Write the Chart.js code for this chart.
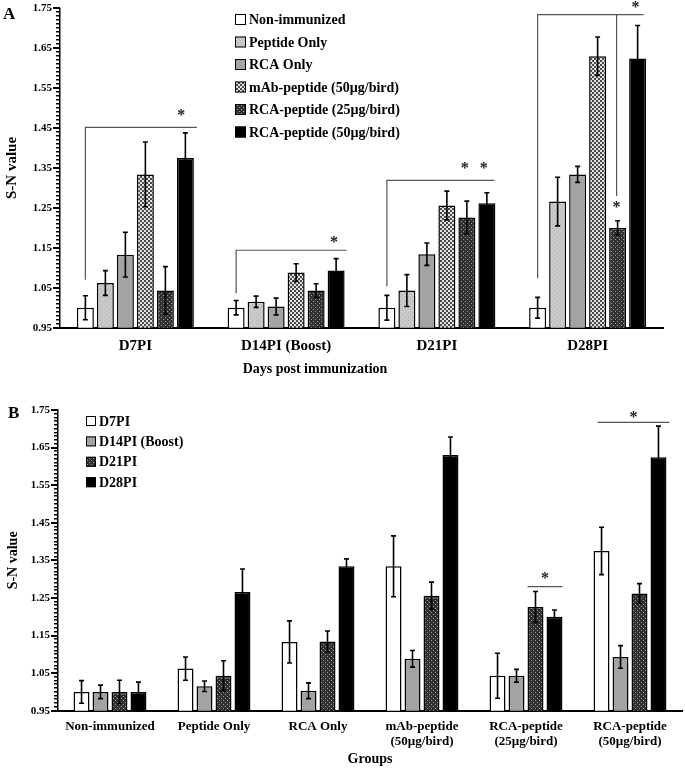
<!DOCTYPE html>
<html>
<head>
<meta charset="utf-8">
<script src="https://cdn.jsdelivr.net/npm/chart.js@4.4.1/dist/chart.umd.min.js"></script>
<style>
  html, body { margin: 0; padding: 0; background: #fff; }
  #wrapA { position: absolute; left: 0; top: 0; width: 685px; height: 380px; }
  #wrapB { position: absolute; left: 0; top: 385px; width: 685px; height: 383px; }
</style>
</head>
<body>
<div id="wrapA"><canvas id="chartA"></canvas></div>
<div id="wrapB"><canvas id="chartB"></canvas></div>
<script>
// ---- data ----
var timepoints = ['D7PI', 'D14PI (Boost)', 'D21PI', 'D28PI'];
var groups = ['Non-immunized', 'Peptide Only', 'RCA Only',
  'mAb-peptide (50µg/bird)', 'RCA-peptide (25µg/bird)', 'RCA-peptide (50µg/bird)'];
var groupTicks = ['Non-immunized', 'Peptide Only', 'RCA Only',
  ['mAb-peptide', '(50µg/bird)'], ['RCA-peptide', '(25µg/bird)'], ['RCA-peptide', '(50µg/bird)']];

// S-N values per group, in timepoint order
var nonImmunized   = [1.000, 1.000, 1.000, 1.000];
var peptideOnly    = [1.062, 1.015, 1.043, 1.266];
var rcaOnly        = [1.133, 1.003, 1.134, 1.334];
var mAbPeptide50   = [1.334, 1.088, 1.256, 1.630];
var rcaPeptide25   = [1.043, 1.043, 1.226, 1.200];
var rcaPeptide50   = [1.375, 1.093, 1.262, 1.624];

// error bar half-lengths
var nonImmunizedErr = [0.030, 0.018, 0.031, 0.026];
var peptideOnlyErr  = [0.031, 0.014, 0.040, 0.061];
var rcaOnlyErr      = [0.056, 0.021, 0.028, 0.020];
var mAbPeptide50Err = [0.081, 0.022, 0.036, 0.048];
var rcaPeptide25Err = [0.060, 0.017, 0.041, 0.018];
var rcaPeptide50Err = [0.063, 0.030, 0.026, 0.083];

var groupValues = [nonImmunized, peptideOnly, rcaOnly, mAbPeptide50, rcaPeptide25, rcaPeptide50];
var groupErrors = [nonImmunizedErr, peptideOnlyErr, rcaOnlyErr, mAbPeptide50Err, rcaPeptide25Err, rcaPeptide50Err];

// y axis: labels every 0.10 starting at 0.95, minor marks every 0.01
var yMin = 0.95, yMax = 1.75;
var yTickValues = [];
for (var k = 95; k <= 175; k++) yTickValues.push(k / 100);

// ---- fill patterns ----
function pattern(size, bg, fg, cells) {
  var cv = document.createElement('canvas');
  cv.width = size; cv.height = size;
  var g = cv.getContext('2d');
  g.fillStyle = bg; g.fillRect(0, 0, size, size);
  g.fillStyle = fg;
  cells.forEach(function (p) { g.fillRect(p[0], p[1], p[2], p[3]); });
  return g.createPattern(cv, 'repeat');
}
var FILL_WHITE = '#ffffff';
var FILL_LIGHT = pattern(4, '#cacaca', '#aeaeae', [[0, 0, 1, 1], [2, 2, 1, 1]]);
var FILL_GRAY = '#a3a3a3';
var FILL_WEAVE = pattern(4, '#e2e2e2', '#4a4a4a', [[0, 0, 2, 2], [2, 2, 2, 2]]);
var FILL_DARK = pattern(4, '#303030', '#9c9c9c', [[1, 1, 1, 1], [3, 3, 1, 1]]);
var FILL_BLACK = '#000000';

var groupFills = [FILL_WHITE, FILL_LIGHT, FILL_GRAY, FILL_WEAVE, FILL_DARK, FILL_BLACK];
var timeFills = [FILL_WHITE, FILL_GRAY, FILL_DARK, FILL_BLACK];

Chart.defaults.font.family = '"Liberation Serif", "Times New Roman", serif';
Chart.defaults.font.weight = 'bold';
Chart.defaults.color = '#000';

function isMajor(v) { return Math.round(v * 100) % 10 === 5; }

// ---- extras: axis marks, error bars, significance brackets, legend, labels ----
function barX(chart, ds, cat, at, dx) {
  var bar = chart.getDatasetMeta(ds).data[cat];
  var x = bar.x;
  if (at === 'l') x -= bar.width / 2;
  if (at === 'r') x += bar.width / 2;
  return x + (dx || 0);
}

var extras = {
  id: 'extras',
  afterDraw: function (chart, args, opts) {
    var c = chart.ctx, ys = chart.scales.y;
    c.save();

    // y tick marks (minor every 0.01, major at labels)
    var ax = Math.round(chart.chartArea.left);
    c.fillStyle = '#000';
    yTickValues.forEach(function (v) {
      var y = Math.round(ys.getPixelForValue(v));
      if (isMajor(v)) c.fillRect(ax - 7, y - 1, 7, 2);
      else c.fillRect(ax - 4, y - 1, 4, 1.5);
    });

    // error bars
    c.strokeStyle = '#000'; c.lineWidth = 1.6;
    chart.data.datasets.forEach(function (ds, i) {
      chart.getDatasetMeta(i).data.forEach(function (bar, j) {
        var v = ds.data[j], e = ds.err[j];
        var t = ys.getPixelForValue(v + e), b = ys.getPixelForValue(v - e);
        c.beginPath();
        c.moveTo(bar.x, t); c.lineTo(bar.x, b);
        c.moveTo(bar.x - 2.5, t); c.lineTo(bar.x + 2.5, t);
        c.moveTo(bar.x - 2.5, b); c.lineTo(bar.x + 2.5, b);
        c.stroke();
      });
    });

    // significance brackets
    c.strokeStyle = '#555'; c.lineWidth = 1.2;
    (opts.brackets || []).forEach(function (line) {
      c.beginPath();
      line.forEach(function (p, n) {
        var x = barX(chart, p[0], p[1], p[2], p[3]), y = ys.getPixelForValue(p[4]);
        if (n === 0) c.moveTo(x, y); else c.lineTo(x, y);
      });
      c.stroke();
    });
    c.fillStyle = '#222';
    c.font = 'bold 16px "Liberation Serif", serif';
    c.textAlign = 'center'; c.textBaseline = 'middle';
    (opts.stars || []).forEach(function (s) {
      var x;
      if (s.mid) x = (barX(chart, s.mid[0][0], s.mid[0][1], s.mid[0][2], s.mid[0][3]) +
                      barX(chart, s.mid[1][0], s.mid[1][1], s.mid[1][2], s.mid[1][3])) / 2;
      else x = barX(chart, s.at[0], s.at[1], 'c', s.at[2]);
      c.fillText('*', x, ys.getPixelForValue(s.y) + 3);
    });

    // legend
    var L = opts.legend;
    c.font = 'bold ' + L.size + 'px "Liberation Serif", serif';
    c.textAlign = 'left'; c.textBaseline = 'middle';
    chart.data.datasets.forEach(function (ds, i) {
      var y = L.y + i * L.dy;
      c.fillStyle = ds.backgroundColor;
      c.fillRect(L.x, y - L.box / 2, L.box, L.box);
      c.strokeStyle = '#000'; c.lineWidth = 1;
      c.strokeRect(L.x + 0.5, y - L.box / 2 + 0.5, L.box - 1, L.box - 1);
      c.fillStyle = '#000';
      c.fillText(ds.label, L.x + L.box + 3, y + 1);
    });

    // panel letter
    c.font = 'bold 17px "Liberation Serif", serif';
    c.fillText(opts.letter.text, opts.letter.x, opts.letter.y);

    // free-placed axis title
    if (opts.xTitle) {
      c.font = 'bold 14px "Liberation Serif", serif';
      c.textAlign = 'center';
      c.fillText(opts.xTitle.text, opts.xTitle.x, opts.xTitle.y);
    }
    c.restore();
  }
};

function yAxis(width, titlePad, titleSize) {
  return {
    min: yMin, max: yMax,
    afterFit: function (s) { s.width = width; },
    afterBuildTicks: function (s) {
      s.ticks = yTickValues.map(function (v) { return { value: v }; });
    },
    border: { color: '#000', width: 1.5 },
    grid: { display: false, drawOnChartArea: false, drawTicks: true, tickLength: 7 },
    ticks: {
      autoSkip: false, padding: 1, color: '#000',
      font: { size: 11, weight: 'bold' },
      callback: function (v) { return isMajor(v) ? v.toFixed(2) : ''; }
    },
    title: { display: true, text: 'S-N value', color: '#000',
      font: { size: titleSize, weight: 'bold' }, padding: { top: titlePad, bottom: 0 } }
  };
}

// ---- panel A: by timepoint ----
new Chart(document.getElementById('chartA'), {
  type: 'bar',
  data: {
    labels: timepoints,
    datasets: groups.map(function (g, i) {
      return {
        label: g, data: groupValues[i], err: groupErrors[i],
        backgroundColor: groupFills[i], borderColor: '#000', borderWidth: 1.5,
        categoryPercentage: 0.796, barPercentage: 0.85
      };
    })
  },
  options: {
    responsive: true, maintainAspectRatio: false, animation: false,
    layout: { padding: { top: 8.3, right: 22, left: 0, bottom: 0 } },
    plugins: {
      legend: { display: false }, tooltip: { enabled: false },
      extras: {
        legend: { x: 235, y: 19.5, dy: 22.5, box: 11, size: 14 },
        letter: { text: 'A', x: 3, y: 15 },
        xTitle: { text: 'Days post immunization', x: 315, y: 369 },
        brackets: [
          [[0, 0, 'c', 0, 1.07], [0, 0, 'c', 0, 1.452], [5, 0, 'r', 3, 1.452]],
          [[0, 1, 'c', 0, 1.036], [0, 1, 'c', 0, 1.144], [5, 1, 'r', 2, 1.144]],
          [[0, 2, 'c', 0, 1.054], [0, 2, 'c', 0, 1.319], [5, 2, 'r', -1, 1.319]],
          [[0, 3, 'c', 0, 1.074], [0, 3, 'c', 0, 1.734], [5, 3, 'c', 6, 1.734]],
          [[4, 3, 'c', -1, 1.734], [4, 3, 'c', -1, 1.28]]
        ],
        stars: [
          { at: [5, 0, -4], y: 1.487 },
          { at: [5, 1, -2], y: 1.171 },
          { at: [4, 2, -2], y: 1.356 },
          { at: [5, 2, -3], y: 1.356 },
          { at: [4, 3, -1], y: 1.258 },
          { at: [5, 3, -2], y: 1.758 }
        ]
      }
    },
    scales: {
      x: {
        afterFit: function (s) { s.height = 52.3; },
        border: { color: '#000', width: 2 },
        grid: { display: false, drawTicks: false },
        ticks: { padding: 9, color: '#000', font: { size: 15, weight: 'bold' }, maxRotation: 0, autoSkip: false }
      },
      y: yAxis(60, 3, 15)
    }
  },
  plugins: [extras]
});

// ---- panel B: by group ----
new Chart(document.getElementById('chartB'), {
  type: 'bar',
  data: {
    labels: groupTicks,
    datasets: timepoints.map(function (t, j) {
      return {
        label: t,
        data: groupValues.map(function (g) { return g[j]; }),
        err: groupErrors.map(function (g) { return g[j]; }),
        backgroundColor: timeFills[j], borderColor: '#000', borderWidth: 1.5,
        categoryPercentage: 0.73, barPercentage: 0.84
      };
    })
  },
  options: {
    responsive: true, maintainAspectRatio: false, animation: false,
    layout: { padding: { top: 25, right: 3, left: 0, bottom: 0 } },
    plugins: {
      legend: { display: false }, tooltip: { enabled: false },
      extras: {
        legend: { x: 86, y: 36, dy: 20.4, box: 10, size: 14 },
        letter: { text: 'B', x: 8, y: 29 },
        brackets: [
          [[2, 4, 'l', 0, 1.28], [3, 4, 'r', 0, 1.28]],
          [[0, 5, 'l', 4, 1.717], [3, 5, 'r', 3, 1.717]]
        ],
        stars: [
          { mid: [[2, 4, 'l', 0], [3, 4, 'r', 0]], y: 1.308 },
          { mid: [[0, 5, 'l', 4], [3, 5, 'r', 3]], y: 1.737 }
        ]
      }
    },
    scales: {
      x: {
        afterFit: function (s) { s.height = 57.3; },
        border: { color: '#000', width: 2 },
        grid: { display: false, drawTicks: false },
        ticks: { padding: 8, color: '#000', font: { size: 13, weight: 'bold' }, maxRotation: 0, autoSkip: false },
        title: { display: true, text: 'Groups', color: '#000',
          font: { size: 14, weight: 'bold' }, padding: { top: 0, bottom: 0.6 } }
      },
      y: yAxis(58, 5, 14)
    }
  },
  plugins: [extras]
});
</script>
</body>
</html>
